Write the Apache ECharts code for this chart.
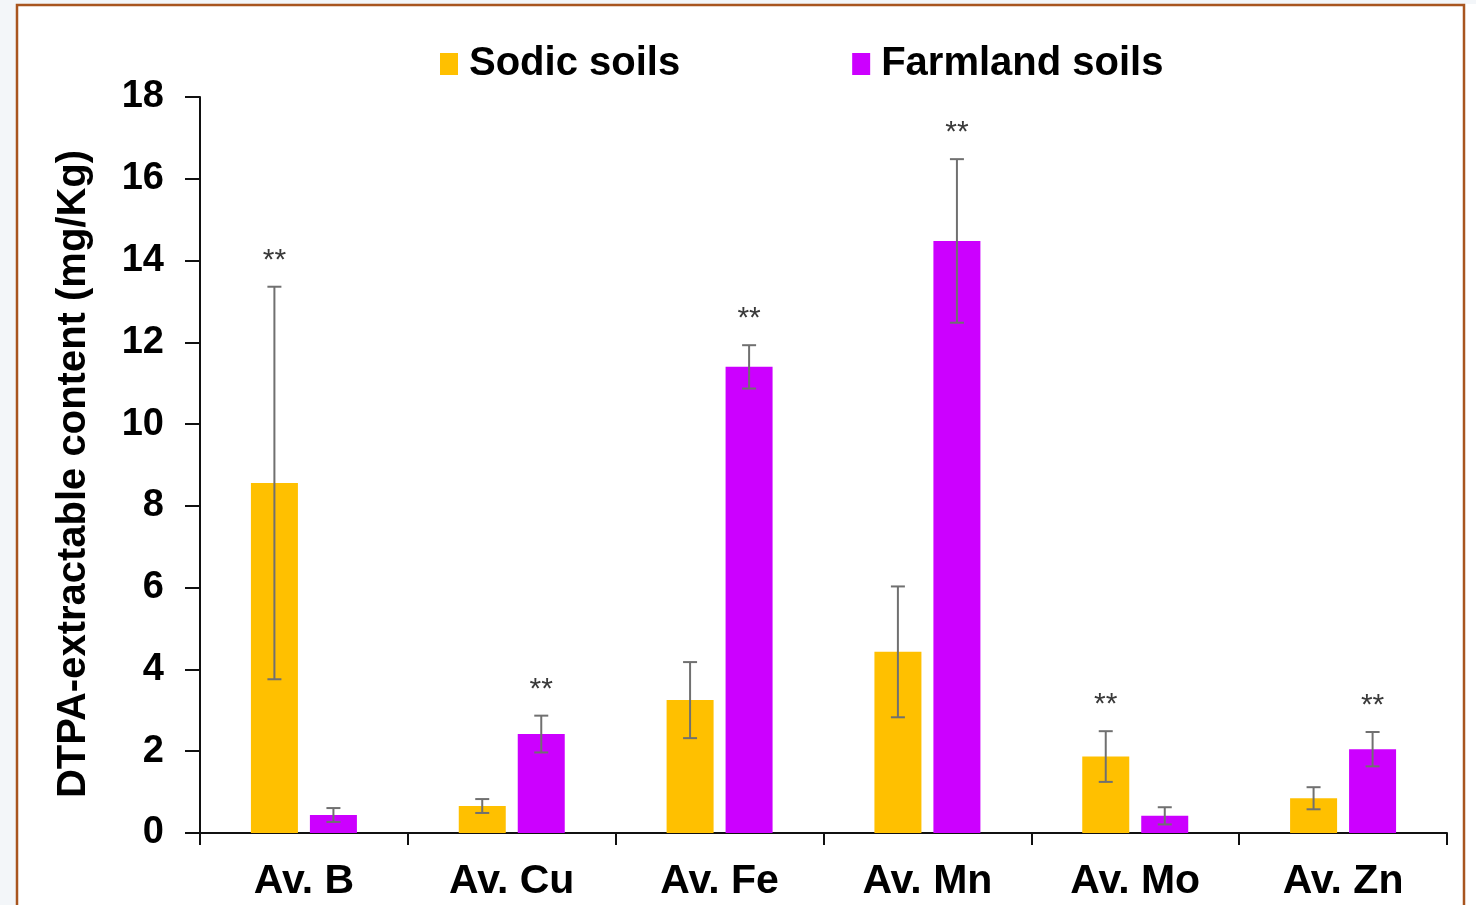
<!DOCTYPE html>
<html>
<head>
<meta charset="utf-8">
<script src="https://cdn.jsdelivr.net/npm/echarts@6/dist/echarts.min.js"></script>
<style>
html,body{margin:0;padding:0;background:#fff;}
#chart{width:1476px;height:905px;}
</style>
</head>
<body>
<div id="chart"></div>
<script>
var categories = ['Av. B', 'Av. Cu', 'Av. Fe', 'Av. Mn', 'Av. Mo', 'Av. Zn'];
var seriesNames = ['Sodic soils', 'Farmland soils'];
var sodicMean = [8.56, 0.66, 3.25, 4.43, 1.87, 0.85];
var sodicErr  = [4.80, 0.17, 0.93, 1.60, 0.62, 0.27];
var farmMean  = [0.44, 2.42, 11.40, 14.48, 0.42, 2.05];
var farmErr   = [0.17, 0.45, 0.53, 2.00, 0.21, 0.42];
// which series carries the significance mark in each category (0 = sodic, 1 = farmland)
var starSeries = [0, 1, 1, 1, 0, 1];
var starText = '**';
var yTicks = [0, 2, 4, 6, 8, 10, 12, 14, 16, 18];

var FONT = '"Liberation Sans", Arial, Helvetica, sans-serif';
var COLORS = ['#FFC000', '#CC00FF'];

function errorRender(means, errs, sIdx) {
  return function (params, api) {
    var i = api.value(0);
    var band = api.size([1, 0])[0];
    var off = band * 0.142 * (sIdx === 0 ? -1 : 1);
    var cx = api.coord([i, 0])[0] + off;
    var yHi = api.coord([i, means[i] + errs[i]])[1];
    var yLo = api.coord([i, means[i] - errs[i]])[1];
    var cap = 7;
    var st = {stroke: '#707070', lineWidth: 2};
    var children = [
      {type: 'line', shape: {x1: cx, y1: yHi, x2: cx, y2: yLo}, style: st},
      {type: 'line', shape: {x1: cx - cap, y1: yHi, x2: cx + cap, y2: yHi}, style: st},
      {type: 'line', shape: {x1: cx - cap, y1: yLo, x2: cx + cap, y2: yLo}, style: st}
    ];
    if (starSeries[i] === sIdx) {
      children.push({type: 'text', style: {
        x: cx, y: yHi - 26, text: starText, fill: '#3a3a3a', fontSize: 30,
        fontFamily: FONT, align: 'center', verticalAlign: 'middle'
      }});
    }
    return {type: 'group', children: children};
  };
}

var chart = echarts.init(document.getElementById('chart'), null, {renderer: 'canvas'});
chart.setOption({
  backgroundColor: '#ffffff',
  animation: false,
  textStyle: {fontFamily: FONT},
  graphic: [
    {type: 'rect', left: 0, top: 0, shape: {width: 16, height: 905}, style: {fill: '#f3f6f9'}, z: -10},
    {type: 'rect', left: 0, top: 0, shape: {width: 1476, height: 4}, style: {fill: '#f3f6f9'}, z: -10},
    {type: 'rect', shape: {x: 17, y: 5, width: 1447, height: 930}, style: {fill: 'none', stroke: '#A8551F', lineWidth: 2.5}, z: 10, silent: true}
  ],
  legend: {
    data: seriesNames,
    left: 440, top: 44,
    itemWidth: 18, itemHeight: 22, itemGap: 172,
    icon: 'rect',
    padding: 0,
    textStyle: {fontSize: 40, fontWeight: 'bold', color: '#000', fontFamily: FONT, padding: [0, 0, 0, 6]}
  },
  grid: {left: 200, right: 29, top: 97, bottom: 72},
  xAxis: {
    type: 'category',
    data: categories,
    axisLine: {lineStyle: {color: '#111', width: 2}},
    axisTick: {show: true, length: 12, lineStyle: {color: '#111', width: 2}},
    axisLabel: {fontSize: 41, fontWeight: 'bold', color: '#000', margin: 28, fontFamily: FONT}
  },
  yAxis: {
    type: 'value',
    min: 0, max: 18, interval: 2,
    name: 'DTPA-extractable content (mg/Kg)',
    nameLocation: 'middle',
    nameGap: 106,
    nameRotate: 90,
    nameTextStyle: {fontSize: 40, fontWeight: 'bold', color: '#000', fontFamily: FONT, padding: [0, 18, 0, 0]},
    axisLine: {show: true, lineStyle: {color: '#111', width: 2}},
    axisTick: {show: true, length: 15, lineStyle: {color: '#111', width: 2}},
    splitLine: {show: false},
    axisLabel: {
      fontSize: 38, fontWeight: 'bold', color: '#000', margin: 36, fontFamily: FONT,
      formatter: function (v) { return yTicks.indexOf(v) >= 0 ? String(v) : ''; }
    }
  },
  series: [
    {name: seriesNames[0], type: 'bar', data: sodicMean, barWidth: 47, barGap: '25.5%', itemStyle: {color: COLORS[0]}},
    {name: seriesNames[1], type: 'bar', data: farmMean, barWidth: 47, barGap: '25.5%', itemStyle: {color: COLORS[1]}},
    {type: 'custom', data: categories.map(function (c, i) { return [i]; }), renderItem: errorRender(sodicMean, sodicErr, 0), z: 5},
    {type: 'custom', data: categories.map(function (c, i) { return [i]; }), renderItem: errorRender(farmMean, farmErr, 1), z: 5}
  ]
});
</script>
</body>
</html>
